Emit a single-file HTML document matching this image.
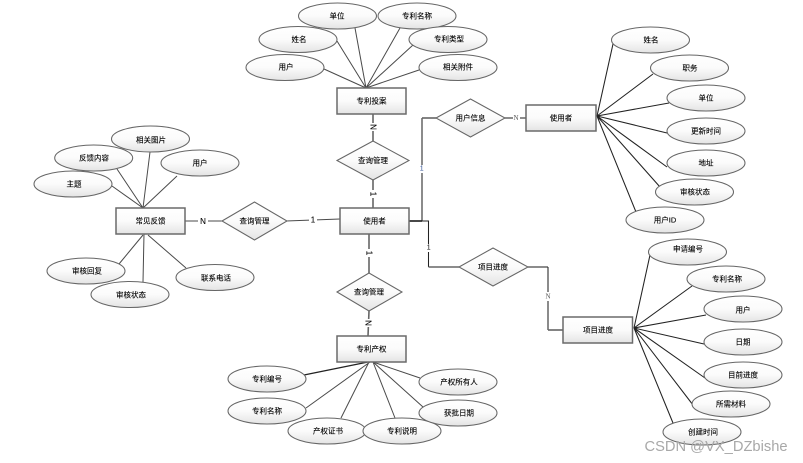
<!DOCTYPE html>
<html><head><meta charset="utf-8">
<style>
html,body{margin:0;padding:0;background:#fff;width:803px;height:463px;overflow:hidden}
svg{display:block}
text{font-family:"Liberation Sans","Noto Sans CJK SC",sans-serif;font-size:7.5px;fill:#000;stroke:#000;stroke-width:.12;text-anchor:middle;dominant-baseline:central;letter-spacing:0}
.l{stroke:#4a4a4a;stroke-width:1;fill:none}
.d{stroke:#222;stroke-width:1.05;fill:none}
.t{stroke:#666;stroke-width:1.6;fill:none}
ellipse,.s{fill:url(#g);stroke:#666;stroke-width:1.05}
rect.s{stroke-width:1.5;stroke:#6a6a6a}
.n{font-size:8px}
</style></head><body>
<svg width="803" height="463" viewBox="0 0 803 463" xmlns="http://www.w3.org/2000/svg">
<defs><linearGradient id="g" x1="0" y1="0" x2="0" y2="1"><stop offset="0" stop-color="#fff"/><stop offset=".5" stop-color="#fbfbfb"/><stop offset="1" stop-color="#e4e4e4"/></linearGradient></defs>

<!-- top cluster lines -->
<path class="l" d="M366 88L324 69M366 88L337 41M366 88L355 28M366 88L400 28M366 88L413 45M366 88L419 70"/>
<!-- left cluster lines -->
<path class="l" d="M143 208L112 186M143 208L117 169M143 208L150 152M143 208L177 176M143 235L119 264M144 234L143 282M148 235L186 268"/>
<!-- bottom cluster lines -->
<path class="l" d="M370 362L306 408M369 362L341 418M373 362L395 418M373 362L423 407M373 362L420 378"/>
<path class="d" style="stroke-width:1.3" d="M368 362L304 375"/>
<!-- right cluster lines -->
<path class="d" d="M597 116L613 44M597 116L653 74M597 116L669 103M597 116L667 133M597 116L667 167M597 116L660 187M597 116L636 212"/>
<path class="d" d="M634 328L650 255M634 328L692 286M634 328L706 315M634 328L704 344M634 328L705 378M634 328L693 405M634 328L673 423"/>
<!-- relation connectors -->
<path class="t" d="M373 114V141M373 180V208M369 234V273M369 311L368 336"/>
<path class="l" d="M185 221H222M286 221L340 219"/>
<path class="d" style="stroke-width:1.8;stroke:#333" d="M409 221H422"/>
<path class="d" d="M422 221V118"/>
<path class="t" d="M422 118H436"/>
<path class="d" d="M422 221H428.500V267"/>
<path class="t" d="M428.500 267H459"/>
<path class="t" d="M505 118H526"/>
<path class="t" d="M528 267H548"/>
<path class="d" d="M548 267V330"/>
<path class="t" d="M548 330H563"/>

<!-- relation labels -->
<rect x="198" y="216" width="10" height="10" fill="#fff"/><text class="n" x="203" y="221.500">N</text>
<rect x="309" y="216" width="8" height="9" fill="#fff"/><text class="n" x="313" y="220">1</text>
<rect x="369" y="123" width="8" height="8" fill="#fff"/><text class="n" transform="translate(373 127) rotate(90)">N</text>
<rect x="369" y="190" width="8" height="8" fill="#fff"/><text class="n" transform="translate(373 194) rotate(90)">1</text>
<rect x="365" y="249" width="8" height="8" fill="#fff"/><text class="n" transform="translate(369 253) rotate(90)">1</text>
<rect x="364" y="319" width="8" height="8" fill="#fff"/><text class="n" transform="translate(368 323) rotate(90)">N</text>
<rect x="419" y="165" width="6" height="8" fill="#fff"/><text x="421.700" y="169" style="font-size:7px;fill:#2a4a90;stroke:none">1</text>
<rect x="426" y="244" width="6" height="8" fill="#fff"/><text x="428.700" y="248" style="font-size:7px;stroke:none">1</text>
<rect x="513" y="114" width="7" height="8" fill="#fff"/><text x="516" y="118" style="font-size:7px;font-family:'Liberation Serif',serif;fill:#555;stroke:none">N</text>
<rect x="544" y="292" width="8" height="9" fill="#fff"/><text x="548" y="296.500" style="font-size:7px;font-family:'Liberation Serif',serif;fill:#555;stroke:none">N</text>

<!-- entities -->
<rect class="s" x="337" y="88" width="69" height="26"/><text x="371.500" y="101">专利投案</text>
<rect class="s" x="340" y="208" width="69" height="26"/><text x="374.500" y="221">使用者</text>
<rect class="s" x="526" y="105" width="70" height="26"/><text x="561" y="118">使用者</text>
<rect class="s" x="116" y="208" width="69" height="26"/><text x="150.500" y="221">常见反馈</text>
<rect class="s" x="337" y="336" width="69" height="26"/><text x="371.500" y="349">专利产权</text>
<rect class="s" x="563" y="317" width="69.500" height="26"/><text x="598" y="330">项目进度</text>

<!-- relationships -->
<polygon class="s" points="337,160.500 373,141 409,160.500 373,180"/><text x="373" y="160.500">查询管理</text>
<polygon class="s" points="222,221 254.500,202 287,221 254.500,240"/><text x="254.500" y="221">查询管理</text>
<polygon class="s" points="337,292 369,273 402,292 369,311"/><text x="369" y="292">查询管理</text>
<polygon class="s" points="436,118 470.500,99 505,118 470.500,137"/><text x="470.500" y="118">用户信息</text>
<polygon class="s" points="459,267 493,248 528,267 493,286"/><text x="493" y="267">项目进度</text>

<!-- attributes top -->
<ellipse cx="337.500" cy="16" rx="39" ry="13"/><text x="337" y="16">单位</text>
<ellipse cx="417" cy="16" rx="39" ry="13"/><text x="417" y="16">专利名称</text>
<ellipse cx="298" cy="39.500" rx="39" ry="13"/><text x="299" y="39.500">姓名</text>
<ellipse cx="448" cy="39.500" rx="39" ry="13"/><text x="449" y="39">专利类型</text>
<ellipse cx="285" cy="67.500" rx="39" ry="13"/><text x="286" y="67">用户</text>
<ellipse cx="458" cy="67.500" rx="39" ry="13"/><text x="458" y="67">相关附件</text>

<!-- attributes left -->
<ellipse cx="150.500" cy="139" rx="39" ry="13"/><text x="151" y="140">相关图片</text>
<ellipse cx="93.700" cy="158" rx="39" ry="13"/><text x="94" y="158">反馈内容</text>
<ellipse cx="73" cy="184" rx="39" ry="13"/><text x="74" y="184">主题</text>
<ellipse cx="200" cy="163" rx="39" ry="13"/><text x="200" y="163">用户</text>
<ellipse cx="86" cy="271" rx="39" ry="13"/><text x="87" y="271">审核回复</text>
<ellipse cx="130" cy="294.500" rx="39" ry="13"/><text x="131" y="295">审核状态</text>
<ellipse cx="215" cy="277.500" rx="39" ry="13"/><text x="216" y="278">联系电话</text>

<!-- attributes bottom -->
<ellipse cx="267" cy="379" rx="39" ry="13"/><text x="267" y="379">专利编号</text>
<ellipse cx="267" cy="411" rx="39" ry="13"/><text x="267" y="411">专利名称</text>
<ellipse cx="327" cy="431" rx="39" ry="13"/><text x="328" y="431">产权证书</text>
<ellipse cx="402" cy="431" rx="39" ry="13"/><text x="402" y="431">专利说明</text>
<ellipse cx="458" cy="382" rx="39" ry="13"/><text x="459" y="382">产权所有人</text>
<ellipse cx="458" cy="413" rx="39" ry="13"/><text x="459" y="413">获批日期</text>

<!-- attributes right top -->
<ellipse cx="650.500" cy="40" rx="39" ry="13"/><text x="651" y="40">姓名</text>
<ellipse cx="689.500" cy="68" rx="39" ry="13"/><text x="690" y="68">职务</text>
<ellipse cx="706" cy="98" rx="39" ry="13"/><text x="706" y="98">单位</text>
<ellipse cx="706" cy="131" rx="39" ry="13"/><text x="706" y="131">更新时间</text>
<ellipse cx="706" cy="163" rx="39" ry="13"/><text x="706" y="163">地址</text>
<ellipse cx="694.500" cy="192" rx="39" ry="13"/><text x="695" y="192">审核状态</text>
<ellipse cx="665" cy="220" rx="39" ry="13"/><text x="665" y="220">用户ID</text>

<!-- attributes right bottom -->
<ellipse cx="687.500" cy="252" rx="39" ry="13"/><text x="688" y="249">申请编号</text>
<ellipse cx="726" cy="279" rx="39" ry="13"/><text x="727" y="279">专利名称</text>
<ellipse cx="743" cy="309" rx="39" ry="13"/><text x="743" y="310">用户</text>
<ellipse cx="743" cy="342" rx="39" ry="13"/><text x="743" y="342">日期</text>
<ellipse cx="743" cy="375" rx="39" ry="13"/><text x="743" y="375">目前进度</text>
<ellipse cx="731" cy="404" rx="39" ry="13"/><text x="731" y="404">所需材料</text>
<ellipse cx="702" cy="432" rx="39" ry="13"/><text x="703" y="432">创建时间</text>

<!-- watermark -->
<text x="716" y="447" style="font-size:14.7px;fill:#a8a8a8;stroke:none;dominant-baseline:central">CSDN @VX_DZbishe</text>
</svg>
</body></html>
